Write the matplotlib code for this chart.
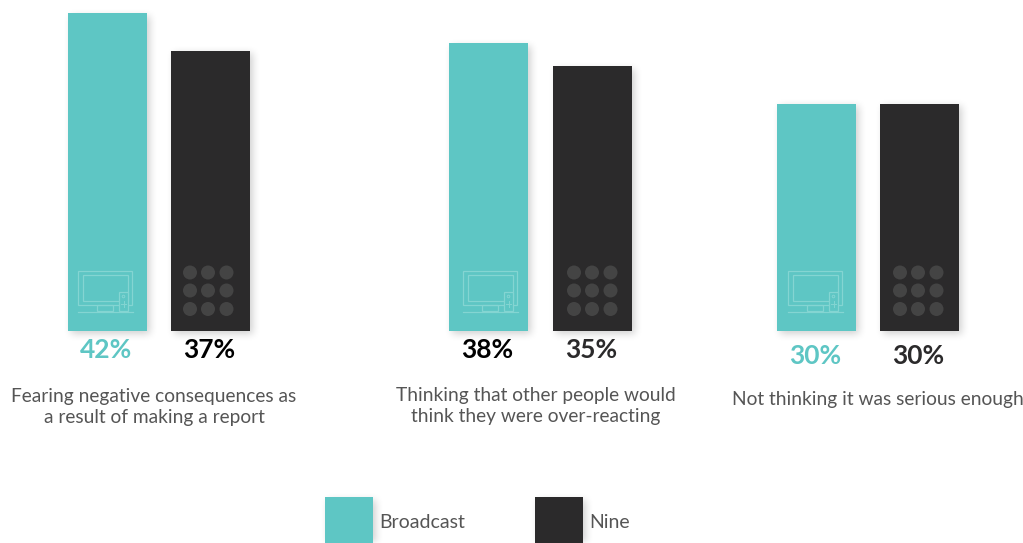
import matplotlib
matplotlib.use('Agg')
import numpy as np
import matplotlib.pyplot as plt
from matplotlib.patches import Rectangle, Circle

# Survey values
categories = ['Fearing negative consequences as\na result of making a report',
              'Thinking that other people would\nthink they were over-reacting',
              'Not thinking it was serious enough']
broadcast = [42, 38, 30]
nine = [37, 35, 30]

TEAL = '#5ec6c4'
DARK = '#2b2a2b'
GREY = '#444444'
ICON = '#84d5d2'
plt.rcParams['font.family'] = ['Lato', 'DejaVu Sans']

W, H = 1023, 543
BASE = 331
PX_PER_PCT = 7.57
BAR_W = 79

fig = plt.figure(figsize=(W / 100, H / 100), dpi=100, facecolor='white')

# shadows go on the bottom layer, then the bars, then icons and text
sh = fig.add_axes([0, 0, 1, 1], zorder=1)
sh.axis('off')

ax = fig.add_axes([0, 0, 1, 1], zorder=2)
ax.set_xlim(0, W)
ax.set_ylim((BASE - H) / PX_PER_PCT, BASE / PX_PER_PCT)
ax.axis('off')

ov = fig.add_axes([0, 0, 1, 1], zorder=3)
ov.set_xlim(0, W)
ov.set_ylim(H, 0)
ov.axis('off')

mask = np.zeros((H, W))


def shadow(x, y, w, h):
    # offset to the lower right, blurred further down
    mask[int(y) + 3:int(y + h) + 3, int(x) + 3:int(x + w) + 3] = 1


def tv_icon(x):
    line = dict(fc='none', ec=ICON, lw=0.9)
    ov.add_patch(Rectangle((x + 10, 271), 54, 34, **line))
    ov.add_patch(Rectangle((x + 14.5, 275), 45, 26, **line))
    ov.add_patch(Rectangle((x + 29, 305), 16, 6, **line))
    ov.add_patch(Rectangle((x + 51, 292), 9, 19, fc=TEAL, ec=ICON, lw=0.9, zorder=5))
    ov.add_patch(Circle((x + 55.5, 296.5), 1.3, fc='none', ec=ICON, lw=0.7, zorder=6))
    ov.plot([x + 53, x + 58], [304, 304], color=ICON, lw=0.7, zorder=6)
    ov.plot([x + 55.5, x + 55.5], [301, 307], color=ICON, lw=0.7, zorder=6)
    ov.plot([x + 9.5, x + 65], [311.5, 311.5], color=ICON, lw=0.9)


def dot_icon(x):
    for dy in [272.5, 290.5, 309]:
        for dx in [19, 37, 55.5]:
            ov.add_patch(Circle((x + dx, dy), 7, fc=GREY, ec='none'))


left_x = [68, 449, 777]
right_x = [171, 553, 880]
tv_x = [68, 453, 778]
dots_x = [171, 555, 881]
left_colors = [TEAL, 'black', TEAL]
right_colors = ['black', '#2b2a2b', '#2b2a2b']
pct_y = [350.5, 350.5, 355.5]
cat_x = [154, 535.5, 878]
cat_y = [407, 406, 399.5]

for i in range(3):
    ax.bar(left_x[i], broadcast[i], BAR_W, align='edge', color=TEAL)
    ax.bar(right_x[i], nine[i], BAR_W, align='edge', color=DARK)
    shadow(left_x[i], BASE - broadcast[i] * PX_PER_PCT, BAR_W, broadcast[i] * PX_PER_PCT)
    shadow(right_x[i], BASE - nine[i] * PX_PER_PCT, BAR_W, nine[i] * PX_PER_PCT)
    tv_icon(tv_x[i])
    dot_icon(dots_x[i])
    ov.text(left_x[i] + 38.5, pct_y[i], '%d%%' % broadcast[i], color=left_colors[i], fontsize=19,
            fontweight='bold', ha='center', va='center')
    ov.text(right_x[i] + 38.5, pct_y[i], '%d%%' % nine[i], color=right_colors[i], fontsize=19,
            fontweight='bold', ha='center', va='center')
    ov.text(cat_x[i], cat_y[i], categories[i], color='#555555', fontsize=13.8,
            ha='center', va='center', linespacing=1.3)

# legend
for x, c, name in [(325, TEAL, 'Broadcast'), (535, DARK, 'Nine')]:
    shadow(x, 497, 48, 46)
    ov.add_patch(Rectangle((x, 497), 48, 46, fc=c, ec='none'))
    ov.text(x + 54, 523, name, color='#555555', fontsize=14, va='center', ha='left')

# blur the shadow mask with a small kernel along both directions
kernel = np.ones(9) / 9
for _ in range(2):
    mask = np.apply_along_axis(lambda r: np.convolve(r, kernel, mode='same'), 0, mask)
    mask = np.apply_along_axis(lambda r: np.convolve(r, kernel, mode='same'), 1, mask)
rgba = np.zeros((H, W, 4))
rgba[..., 3] = mask * 0.18
sh.imshow(rgba, extent=(0, W, H, 0), interpolation='nearest', aspect='auto')

fig.savefig('out.png', dpi=100)
